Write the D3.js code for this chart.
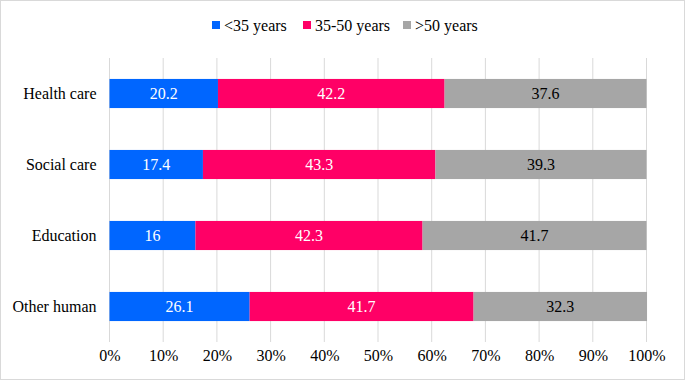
<!DOCTYPE html>
<html><head><meta charset="utf-8">
<script src="https://cdn.jsdelivr.net/npm/d3@7"></script>
<style>body{margin:0;background:#fff}svg{display:block}</style>
</head><body><svg id="c" width="685" height="380" style="font-family:'Liberation Serif'"></svg>
<script>
const categories = ["Health care","Social care","Education","Other human"];
const seriesNames = ["<35 years","35-50 years",">50 years"];
const under35 = [20.2,17.4,16,26.1];
const mid3550 = [42.2,43.3,42.3,41.7];
const over50 = [37.6,39.3,41.7,32.3];
const tickValues = [0,10,20,30,40,50,60,70,80,90,100];
const colors = ["#0066FF","#FF0066","#A6A6A6"];
const labelColors = ["#fff","#fff","#000"];
const FF = "font-family:'Liberation Serif'";

const svg = d3.select("#c");
const W=685,H=380;
svg.append("rect").attr("x",0.5).attr("y",0.5).attr("width",W-1).attr("height",H-1).attr("fill","#fff").attr("stroke","#d9d9d9");

const x = d3.scaleLinear().domain([0,100]).range([109.5,646.5]);
const y = d3.scaleBand().domain(categories).range([58,342]).paddingInner(0.59).paddingOuter(0.295);

svg.append("g").selectAll("line").data(tickValues).join("line")
  .attr("x1",d=>x(d)).attr("x2",d=>x(d)).attr("y1",58).attr("y2",342)
  .attr("stroke","#d9d9d9").attr("stroke-width",1);

const rows = categories.map((c,i)=>({cat:c,v:[under35[i],mid3550[i],over50[i]]}));
const stack = d3.stack().keys([0,1,2]).value((d,k)=>d.v[k]);
const layers = stack(rows);

const g = svg.append("g");
layers.forEach((layer,k)=>{
  g.selectAll(".b"+k).data(layer).join("rect")
    .attr("x",d=>x(d[0])).attr("width",d=>x(d[1])-x(d[0]))
    .attr("y",d=>y(d.data.cat)).attr("height",y.bandwidth())
    .attr("fill",colors[k]);
  g.selectAll(".t"+k).data(layer).join("text")
    .attr("x",d=>(x(d[0])+x(d[1]))/2).attr("y",d=>y(d.data.cat)+y.bandwidth()/2)
    .attr("dy","0.35em").attr("text-anchor","middle").attr("font-size",16)
    .attr("style",FF).attr("fill",labelColors[k]).text(d=>d.data.v[k]);
});

const ya = d3.axisLeft(y).tickSize(0).tickPadding(13);
svg.append("g").attr("transform","translate(109.5,0)").call(ya)
  .call(s=>s.select(".domain").remove())
  .call(s=>s.attr("font-family",null))
  .selectAll("text").attr("font-size",16).attr("fill","#000").attr("style",FF);

const xa = d3.axisBottom(x).tickValues(tickValues).tickFormat(d=>d+"%").tickSize(0).tickPadding(0);
svg.append("g").attr("transform","translate(0,350)").call(xa)
  .call(s=>s.select(".domain").remove())
  .call(s=>s.attr("font-family",null))
  .selectAll("text").attr("font-size",16).attr("fill","#000").attr("style",FF);

const legX=[212,303,403];
const lg = svg.append("g");
seriesNames.forEach((n,k)=>{
  lg.append("rect").attr("x",legX[k]).attr("y",21).attr("width",8).attr("height",8).attr("fill",colors[k]);
  lg.append("text").attr("x",legX[k]+12).attr("y",25).attr("dy","0.35em").attr("font-size",16)
    .attr("style",FF).attr("fill","#000").text(n);
});
</script></body></html>
